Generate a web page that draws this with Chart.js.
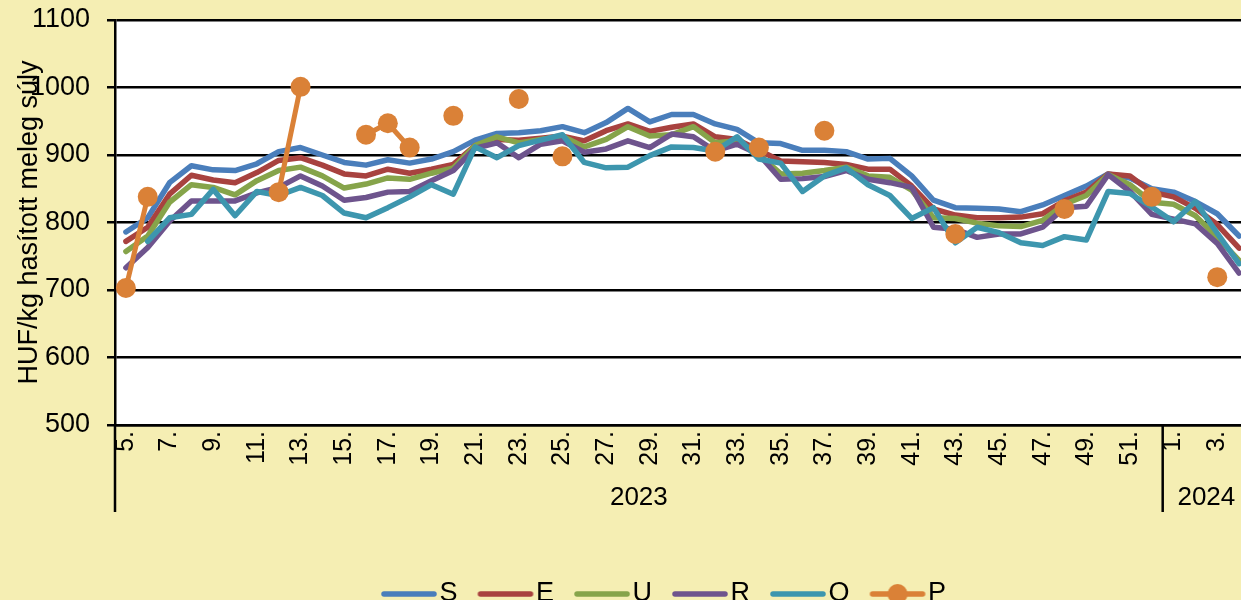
<!DOCTYPE html>
<html>
<head>
<meta charset="utf-8">
<script src="https://cdn.jsdelivr.net/npm/chart.js@4.4.1/dist/chart.umd.min.js"></script>
<style>
html, body { margin: 0; padding: 0; background: #f5eeb3; overflow: hidden; }
#wrap { width: 1241px; height: 600px; overflow: hidden; }
</style>
</head>
<body>
<div id="wrap"><canvas id="chart" width="1338" height="600"></canvas></div>
<script>
// weeks: 2023 week 5 .. 52, then 2024 week 1 .. 4
const weeks = ['5.','6.','7.','8.','9.','10.','11.','12.','13.','14.','15.','16.','17.','18.','19.','20.',
  '21.','22.','23.','24.','25.','26.','27.','28.','29.','30.','31.','32.','33.','34.','35.','36.',
  '37.','38.','39.','40.','41.','42.','43.','44.','45.','46.','47.','48.','49.','50.','51.','52.',
  '1.','2.','3.','4.'];
const years = ['2023', '2024'];
const yTicks = [500, 600, 700, 800, 900, 1000, 1100];

const S = [786,807,859,884,878,877,887,905,911,900,889,885,893,888,894,905,
  922,932,933,936,942,933,948,969,949,960,960,946,938,918,917,907,
  907,905,894,895,869,833,822,821,820,816,826,840,854,872,866,850,
  845,831,813,780];
const E = [772,793,842,870,863,859,874,892,896,885,872,869,879,873,879,886,
  914,923,922,925,928,921,936,946,935,941,946,927,923,907,891,890,
  889,886,879,879,854,820,811,807,807,808,813,832,845,872,869,845,
  838,821,797,762];
const U = [757,780,830,856,852,841,862,877,882,869,851,857,866,864,873,881,
  914,927,918,923,928,912,923,942,928,930,942,918,921,901,872,873,
  877,882,869,867,848,807,806,799,795,794,803,827,840,871,856,830,
  827,810,778,744];
const R = [733,763,802,832,832,832,844,852,869,854,833,837,845,846,862,877,
  910,918,896,916,921,904,909,921,911,931,927,906,916,901,864,865,
  868,877,864,859,852,793,790,778,783,783,793,822,824,871,846,812,
  805,798,769,725];
const O = [null,772,807,812,849,810,846,840,852,840,814,807,822,838,856,842,
  912,896,914,922,930,889,881,882,899,912,911,906,927,894,888,846,
  869,881,856,840,806,822,770,793,785,770,766,779,774,846,843,823,
  801,831,784,739];
const P = [703,838,null,null,null,null,null,845,1001,null,null,930,947,911,null,958,
  null,null,983,null,898,null,null,null,null,null,null,905,null,911,null,null,
  936,null,null,null,null,null,783,null,null,null,null,820,null,null,null,838,
  null,null,719,null];

const names = ['S', 'E', 'U', 'R', 'O', 'P'];
const colors = ['#4a7ebb', '#a8423f', '#86a44a', '#6e548d', '#3d96ae', '#da8137'];
const FONT = "'Liberation Sans', Arial, sans-serif";

Chart.defaults.font.family = FONT;
Chart.defaults.color = '#000';

// little pictures for the legend (line, and line with dot for P)
function legendPic(color, dot) {
  const c = document.createElement('canvas');
  c.width = 58; c.height = 24;
  const g = c.getContext('2d');
  g.strokeStyle = color; g.lineWidth = 5.5; g.lineCap = 'round';
  g.beginPath(); g.moveTo(4, 12); g.lineTo(54, 12); g.stroke();
  if (dot) {
    g.fillStyle = color;
    g.beginPath(); g.arc(29, 12, 10, 0, Math.PI * 2); g.fill();
  }
  return c;
}
const pics = colors.map((c, i) => legendPic(c, i === 5));

const yearIdx = weeks.indexOf('1.');

const frame = {
  id: 'frame',
  beforeDraw(chart) {
    const {ctx, chartArea: a} = chart;
    ctx.save();
    ctx.fillStyle = '#f5eeb3';
    ctx.fillRect(0, 0, chart.width, chart.height);
    ctx.fillStyle = '#fff';
    ctx.fillRect(a.left, a.top, a.right - a.left, a.bottom - a.top);
    ctx.restore();
  },
  afterDraw(chart) {
    const {ctx, chartArea: a, scales: {x}} = chart;
    const sep = (x.getPixelForValue(yearIdx - 1) + x.getPixelForValue(yearIdx)) / 2;
    ctx.save();
    ctx.strokeStyle = '#000';
    ctx.lineWidth = 2.5;
    ctx.beginPath();
    ctx.moveTo(a.left, a.bottom); ctx.lineTo(a.left, a.bottom + 87);
    ctx.moveTo(sep, a.bottom); ctx.lineTo(sep, a.bottom + 87);
    ctx.stroke();
    ctx.fillStyle = '#000';
    ctx.font = '26px ' + FONT;
    ctx.textAlign = 'center';
    ctx.textBaseline = 'middle';
    ctx.fillText(years[0], (a.left + sep) / 2, a.bottom + 73);
    ctx.fillText(years[1], (sep + a.right) / 2, a.bottom + 73);
    ctx.restore();
  }
};

const series = [S, E, U, R, O, P];
const datasets = series.map((d, i) => ({
  label: names[i],
  data: d,
  borderColor: colors[i],
  backgroundColor: colors[i],
  borderWidth: i === 5 ? 5 : 5.5,
  pointRadius: i === 5 ? 10 : 0,
  pointHoverRadius: i === 5 ? 10 : 0,
  pointBorderWidth: 0,
  borderJoinStyle: 'round',
  borderCapStyle: 'round',
  tension: 0,
  spanGaps: false,
  order: 6 - i
}));

new Chart(document.getElementById('chart'), {
  type: 'line',
  data: { labels: weeks, datasets: datasets },
  options: {
    responsive: false,
    animation: false,
    devicePixelRatio: 1,
    layout: { padding: { top: 20, left: 0, right: 0, bottom: -17.5 } },
    plugins: {
      tooltip: { enabled: false },
      legend: {
        position: 'bottom',
        labels: {
          usePointStyle: true,
          pointStyleWidth: 34,
          padding: 31,
          font: { size: 27 },
          generateLabels: (chart) => chart.data.datasets.map((ds, i) => ({
            text: ds.label,
            datasetIndex: i,
            pointStyle: pics[i],
            fillStyle: colors[i],
            strokeStyle: colors[i],
            lineWidth: 0,
            hidden: false,
            fontColor: '#000'
          }))
        }
      }
    },
    scales: {
      x: {
        offset: true,
        grid: { display: false, drawTicks: false },
        border: { display: true, color: '#000', width: 2.5 },
        ticks: {
          autoSkip: false,
          minRotation: 90,
          maxRotation: 90,
          padding: 6,
          font: { size: 25 },
          callback: function (v, i) { return i % 2 === 0 ? weeks[i] : ''; }
        },
        afterFit: (s) => { s.height = 124.5; }
      },
      y: {
        min: yTicks[0],
        max: yTicks[yTicks.length - 1],
        afterBuildTicks: (s) => { s.ticks = yTicks.map(v => ({ value: v })); },
        grid: { color: '#000', lineWidth: 2.5, tickLength: 8 },
        border: { display: true, color: '#000', width: 2.5 },
        ticks: { padding: 17, font: { size: 27 }, callback: (v) => String(v) },
        title: {
          display: true,
          text: 'HUF/kg hasított meleg súly',
          font: { size: 27 },
          padding: { top: 13, bottom: 0 }
        },
        afterFit: (s) => {
          s.width = 115;
          s.paddingTop = 0;
          s.paddingBottom = 0;
        }
      },
      // empty right-hand axis: keeps the plot edge where the picture is cut off
      yRight: {
        position: 'right',
        min: yTicks[0],
        max: yTicks[yTicks.length - 1],
        grid: { display: false, drawTicks: false },
        border: { display: false },
        ticks: { display: false },
        afterFit: (s) => {
          s.width = 88;
          s.paddingTop = 0;
          s.paddingBottom = 0;
        }
      }
    }
  },
  plugins: [frame]
});
</script>
</body>
</html>
